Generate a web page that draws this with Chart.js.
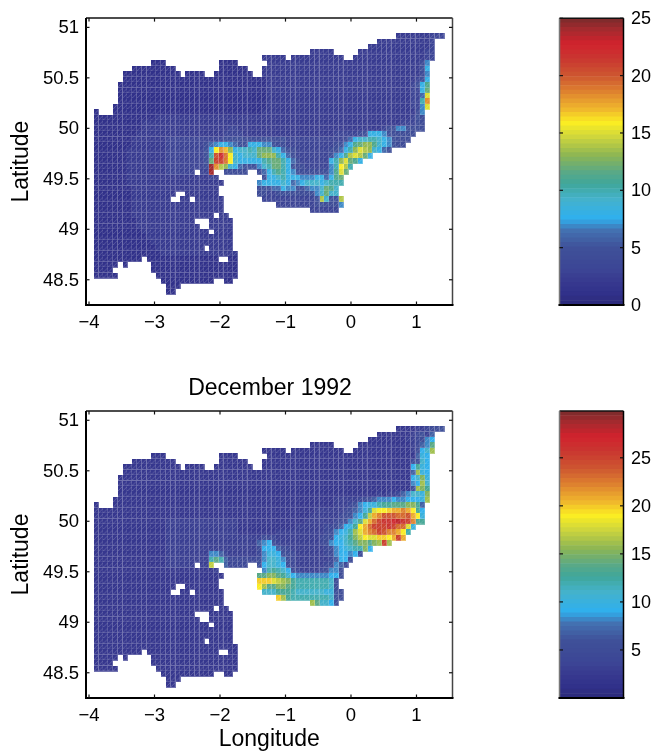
<!DOCTYPE html>
<html><head><meta charset="utf-8">
<script src="https://cdn.jsdelivr.net/npm/chart.js@4"></script>
<style>html,body{margin:0;padding:0;background:#fff;width:654px;height:753px;overflow:hidden}canvas{position:absolute}</style>
</head><body>
<canvas id="mapA" style="left:0;top:0"></canvas>
<canvas id="mapB" style="left:0;top:375px"></canvas>
<canvas id="barA" style="left:540px;top:0"></canvas>
<canvas id="barB" style="left:540px;top:375px"></canvas>
<script>
// Cell values: one string per latitude row, groups of ten longitude columns, base-36 digit = value, "." = no data
const upperRows = [
"D .......... .......... .......... .......... .......... ...2222222 333",
"D .......... .......... .......... .......... .........2 2222222222 3",
"D .......... .......... .......... .......... .......222 2222222222 3",
"D .......... .......... .......... .....22222 .....22222 2222222223 3",
"D .......... .......... .....22222 .222222222 22..222222 2222222223 3",
".......... ..111..... ......1111 ......2222 2222222222 2222222222 2222222247",
"........11 1111111... ......1111 11...22222 2222222222 2222222222 2222222258",
"......1111 11111111.1 111..11111 111..22222 2222222222 2222222222 2222222247",
"......1111 1111111111 1111111111 1111112222 2222222222 2222222222 2222222358",
".....11111 1111111111 1111111111 1111112222 2222222222 2222222222 222222358b",
".....11111 1111111111 1111111111 1111112222 2222222222 2222222222 222222338c",
".....11111 1111111111 1111111111 1111112222 2222222222 2222222222 222222336f",
".....11111 1111111111 1111111111 1111112222 2222222222 2222222222 22222233ai",
"....111111 1111111111 1111111111 1111112222 2222222222 2222222222 222222337f",
"1...111111 1111111111 1111111111 1111122222 2222222222 2222222222 222222247.",
"1111111111 1112222222 2222222222 2222222222 2222222222 2222222222 222222354.",
"1111111111 2222222222 2222222222 2222222222 2222222222 2222222222 222233344.",
"1111111111 2222222222 2222222233 2222222222 2222222222 2222222222 345775444.",
"1111111112 2222222222 2222222333 3222222222 2222222222 3333345888 7544444...",
"1111111122 2222233333 3333333445 5444455445 3333333333 3346899aa9 875444....",
"1111111122 2222233333 3334678876 5588877544 3333333333 4578bcddb9 87544.....",
"1111111222 2222233333 33358gihd8 99a9ccc986 5433333334 568adfed98 65........",
"1111111222 2222233333 3335akmjg9 8999cddda8 6433333335 78befec8.. ..........",
"1111111222 2222233333 3335clljg9 88888abcca 8643333338 adfcb8.... ..........",
"1111111222 2222233333 3334oied98 655579acca 8544333337 agea...... ..........",
"1111111222 2222233333 3.33o..444 44..468aba 8754444457 bfc....... ..........",
"1111111222 2222222222 222233.... .....5889a 8887778868 bc........ ..........",
"1111111222 2222222222 2222222... ....788889 867899989a aa........ ..........",
"1111111122 2222222222 222222.... ....455668 7755677 9cb 9......... ..........",
"1111111122 2222222..2 222222.... ....443345 5444457 9c9 9......... ..........",
"1111111122 222222..22 .222222... .....33333 3333335e95 5e........ ..........",
"1111111122 2222222222 2222222... ........33 3333334544 47........ ..........",
"1111111122 2222222222 2222222... .......... .....33333 3......... ..........",
"1111111122 2222222222 22222.22.. ..........",
"1111111112 2222222222 2...22222. ..........",
"1111111112 2222222222 22..22222. ..........",
"1111111111 2222222222 2222.2222. ..........",
"1111111111 1222222222 222222222. ..........",
"1111111111 1122222222 222222222. ..........",
"1111111111 1112222222 222.22222. ..........",
"1111111111 1111222222 2222222222 ..........",
"1111111111 .111111111 111111..11 ..........",
"11111.1... ..11111111 1111111111 ..........",
"1111...... ..11111111 1111111111 ..........",
"11111..... ...1111111 1111111111 ..........",
".......... ....111111 11111..11. ..........",
".......... .....111.. .......... ..........",
".......... .....11... .......... .........."
];
const lowerRows = [
"D .......... .......... .......... .......... .......... ...2222334 556",
"D .......... .......... .......... .......... .........2 2222223463 7",
"D .......... .......... .......... .......... .......222 2222233458 9",
"D .......... .......... .......... .....22222 .....22222 2222223478 e",
"D .......... .......... .....22222 .222222222 22..222222 222222359b g",
".......... ..222..... ......2222 ......2222 2222222222 2222222222 22222227a9",
"........22 2222222... ......2222 22...22222 2222222222 2222222222 22222256b9",
"......2222 22222222.2 222..22222 222..22222 2222222222 2222222222 2222229da9",
"......2222 2222222222 2222222222 2222222222 2222222222 2222222222 2222227ga9",
".....22222 2222222222 2222222222 2222222222 2222222222 2222222222 2222229bfa",
".....22222 2222222222 2222222222 2222222222 2222222222 2222222222 22222289gb",
".....22222 2222222222 2222222222 2222222222 2222222222 2222222222 2222226gfd",
".....22222 2222222222 2222222222 2222222222 2222222222 2222222223 233478bbaf",
"....222222 2222222222 2222222222 2222222222 2222222222 3333345678 88988999ag",
"2...222222 2222222222 2222222222 2222222222 2222222222 3334689aac ddeeeffd7.",
"2222222222 2222222222 2222222222 2222222222 2222223333 334578adij jkllmljd9.",
"2222222222 2222222222 2222222222 2222222222 2222233333 345689dhlm ooonnolja.",
"2222222222 2222233333 3333333333 2222222222 2222333333 4568beilnp qqrsqpmdd.",
"2222222222 2222233333 3333333333 2222222222 2233333344 579adjlnpp pqpnnia...",
"2222222222 2222233333 3333333333 2222222233 3333333345 89acgilmnp ommljc....",
"2222222222 2222233333 3333333333 3333354433 3333333456 9abdfhjiik kjlpl.....",
"2222222222 2222233333 3333333333 3333789643 3333333458 99bceffefg pg........",
"2222222222 2222233333 3333333333 3333599975 4333333346 89abccf9.. ..........",
"2222222222 2222233333 3333887433 333348aa96 5433333345 899895.... ..........",
"2222222222 2222233333 3333cec744 444458bba8 5433333334 7995...... ..........",
"2222222222 2222233333 3.33h..744 44..69bba9 5433333345 874....... ..........",
"2222222222 2222222222 222223.... .....8cdcb 9543333458 85........ ..........",
"2222222222 2222222222 2222222... ....eeffed b988888889 95........ ..........",
"2222222222 2222222222 222222.... ....kkkihg fdcccccccb 5......... ..........",
"2222222222 2222222..2 222222.... ....jgeeff edcccccccb 5......... ..........",
"2222222222 222222..22 .222222... .....bbbdd dcbbbbbbaa 65........ ..........",
"2222222222 2222222222 2222222... ........kg dccccccccb 65........ ..........",
"2222222222 2222222222 2222222... .......... .....gebb9 6......... ..........",
"2222222222 2222222222 22222.22.. ..........",
"2222222222 2222222222 2...22222. ..........",
"2222222222 2222222222 22..22222. ..........",
"2222222222 2222222222 2222.2222. ..........",
"2222222222 2222222222 222222222. ..........",
"2222222222 2222222222 222222222. ..........",
"2222222222 2222222222 222.22222. ..........",
"2222222222 2222222222 2222222222 ..........",
"2222222222 .222222222 222222..22 ..........",
"22222.2... ..22222222 2222222222 ..........",
"2222...... ..22222222 2222222222 ..........",
"22222..... ...2222222 2222222222 ..........",
".......... ....222222 22222..22. ..........",
".......... .....222.. .......... ..........",
".......... .....22... .......... .........."
];
const lonTicks = [-4,-3,-2,-1,0,1];
const latTicks = [48.5,49,49.5,50,50.5,51];
const upperBarTicks = [0,5,10,15,20,25];
const lowerBarTicks = [5,10,15,20,25];
const upperMax = 25, lowerMax = 29.87;
const axisTitleX = 'Longitude', axisTitleY = 'Latitude', lowerTitle = 'December 1992';
const lonFirst = -3.924, lonStep = 0.0733, latFirst = 50.94, latStep = 0.0539;
const colorStops = [[0,'#2b2a7a'],[.04,'#31318a'],[.08,'#37398f'],[.12,'#3c4595'],[.2,'#3f5199'],[.26,'#4372b2'],[.3,'#2fb0ee'],[.32,'#35b0e4'],[.37,'#45b2ca'],[.42,'#3fa79b'],[.46,'#58a988'],[.52,'#8db553'],[.58,'#c9d33f'],[.635,'#fcee22'],[.68,'#f0b92c'],[.74,'#df842f'],[.8,'#cd5530'],[.86,'#c93630'],[.91,'#d1222d'],[.96,'#a42a2e'],[1,'#782b2b']];
const LEVELS = 64, FONT = '"Liberation Sans", Arial, sans-serif';

function hex(c){return [1,3,5].map(i=>parseInt(c.substr(i,2),16));}
const palette = [];
for(let l=0;l<LEVELS;l++){
  const f=(l+.5)/LEVELS; let k=0;
  while(k<colorStops.length-2&&colorStops[k+1][0]<f)k++;
  const [a,ca]=colorStops[k],[b,cb]=colorStops[k+1],A=hex(ca),B=hex(cb),t=(f-a)/(b-a);
  palette.push(A.map((v,i)=>Math.round(v+(B[i]-v)*t)));
}
const sprites = palette.map(([r,g,b])=>{
  const c=document.createElement('canvas');c.width=5;c.height=6;
  const x=c.getContext('2d');
  x.fillStyle=`rgb(${r},${g},${b})`;x.fillRect(0,0,5,6);
  x.fillStyle='rgba(255,255,255,.3)';
  x.fillRect(4,0,1,6);x.fillRect(0,5,4,1);
  x.fillStyle='rgba(255,255,255,.2)';
  [[0,4],[1,3],[2,2],[3,1]].forEach(p=>x.fillRect(p[0],p[1],1,1));
  return c;
});
function cells(rows,max){
  const pts=[];
  rows.forEach((row,j)=>{
    const s=row.startsWith('D ')?row.slice(2):row;
    const pad=row.startsWith('D ')?'..........':'';
    const str=(pad+s).replace(/ /g,'');
    for(let i=0;i<str.length;i++){
      if(str[i]==='.')continue;
      pts.push({x:lonFirst+lonStep*(i+.5),y:latFirst-latStep*(j+.5),v:parseInt(str[i],36)});
    }
  });
  return pts;
}
function level(v,max){return Math.max(0,Math.min(LEVELS-1,Math.floor(v/max*LEVELS)));}
const frame = {id:'frame',afterDraw(ch){
  const {ctx,chartArea:a}=ch;ctx.save();
  const seg=(x1,y1,x2,y2,w,c)=>{ctx.beginPath();ctx.moveTo(x1,y1);ctx.lineTo(x2,y2);ctx.lineWidth=w;ctx.strokeStyle=c;ctx.stroke();};
  const isBar=ch.canvas.id.startsWith('bar');
  seg(a.left,a.top,a.right,a.top,1.5,'#111');
  seg(a.right,a.top,a.right,a.bottom,1.5,isBar?'#000':'#444');
  seg(a.left,a.top,a.left,a.bottom+1,isBar?1.5:2,isBar?'#777':'#000');
  seg(a.left-1,a.bottom,a.right+1,a.bottom,2,'#000');
  const len=3.5;
  ch.scales.y.ticks.forEach(t=>{const p=ch.scales.y.getPixelForValue(t.value);
    seg(a.left,p,a.left+len,p,1.2,'#111');seg(a.right,p,a.right-len,p,1.2,'#111');});
  if(!isBar)ch.scales.x.ticks.forEach(t=>{const p=ch.scales.x.getPixelForValue(t.value);
    seg(p,a.bottom,p,a.bottom-len,1.2,'#111');seg(p,a.top,p,a.top+len,1.2,'#111');});
  ctx.restore();
}};
function mapChart(id,h,rows,max,topPad,title,xTitle){
  const el=document.getElementById(id);el.width=540;el.height=h;el.style.width='540px';el.style.height=h+'px';
  new Chart(el,{type:'scatter',plugins:[frame],
    data:{datasets:[{data:cells(rows,max),
      pointStyle:c=>sprites[level(c.raw?c.raw.v:0,max)],pointRadius:3,pointHoverRadius:3,borderWidth:0,clip:false}]},
    options:{responsive:false,animation:false,events:[],
      layout:{padding:{left:0,right:0,top:title?0:topPad,bottom:0}},
      plugins:{legend:{display:false},tooltip:{enabled:false},
        title:title?{display:true,text:title,color:'#000',font:{family:FONT,size:23,lineHeight:1.2,weight:'normal'},padding:{top:0,bottom:topPad-27.6}}:{display:false}},
      scales:{
        x:{type:'linear',min:-4.046,max:1.55,grid:{display:false,drawTicks:false},border:{display:false},
          afterBuildTicks:s=>{s.ticks=lonTicks.map(v=>({value:v}));},
          afterFit:s=>{s.height=h-topPad-287;},
          ticks:{padding:7,maxRotation:0,autoSkip:false,color:'#000',font:{family:FONT,size:18.5},callback:v=>String(v).replace('-','\u2212')},
          title:xTitle?{display:true,text:xTitle,color:'#000',font:{family:FONT,size:23},padding:{top:0,bottom:0}}:{display:false}},
        y:{type:'linear',min:48.25,max:51.092,grid:{display:false,drawTicks:false},border:{display:false},
          afterBuildTicks:s=>{s.ticks=latTicks.map(v=>({value:v}));},
          afterFit:s=>{s.width=86;},
          ticks:{padding:7,labelOffset:1,autoSkip:false,color:'#000',font:{family:FONT,size:18.5},callback:v=>String(v)},
          title:{display:true,text:axisTitleY,color:'#000',font:{family:FONT,size:23},padding:{top:8,bottom:0}}},
        spacer:{type:'linear',position:'right',min:0,max:1,grid:{display:false,drawTicks:false},border:{display:false},
          ticks:{display:false},afterFit:s=>{s.width=87.5;}}
      }}});
}
function barChart(id,h,top,max,ticks){
  const el=document.getElementById(id);el.width=114;el.height=h;el.style.width='114px';el.style.height=h+'px';
  const sets=palette.map(([r,g,b])=>({data:[max/LEVELS],backgroundColor:`rgb(${r},${g},${b})`,borderWidth:0,barPercentage:1,categoryPercentage:1,stack:'s'}));
  new Chart(el,{type:'bar',plugins:[frame],
    data:{labels:[''],datasets:sets},
    options:{responsive:false,animation:false,events:[],
      layout:{padding:{left:19.5,right:0,top:top,bottom:h-top-287}},
      plugins:{legend:{display:false},tooltip:{enabled:false}},
      scales:{
        x:{stacked:true,display:false,grid:{display:false}},
        y:{stacked:true,position:'right',min:0,max:max,grid:{display:false,drawTicks:false},border:{display:false},
          afterBuildTicks:s=>{s.ticks=ticks.map(v=>({value:v}));},
          afterFit:s=>{s.width=30.5;},
          ticks:{padding:7.5,labelOffset:1,autoSkip:false,color:'#000',font:{family:FONT,size:18},callback:v=>String(v)}}
      }}});
}
mapChart('mapA',335,upperRows,upperMax,18,null,null);
mapChart('mapB',378,lowerRows,lowerMax,36,lowerTitle,axisTitleX);
barChart('barA',335,18,upperMax,upperBarTicks);
barChart('barB',378,36,lowerMax,lowerBarTicks);
</script>
</body></html>
